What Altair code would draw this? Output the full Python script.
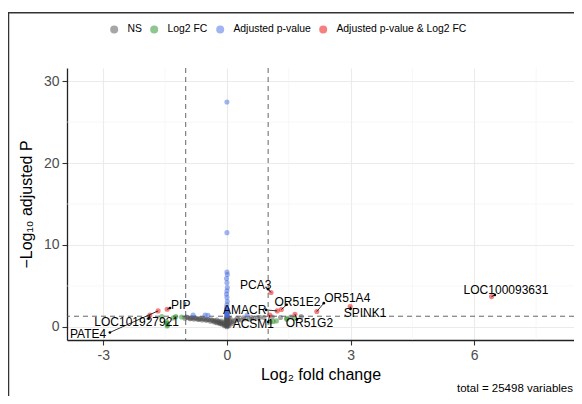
import altair as alt
import pandas as pd

FONT = "Liberation Sans"

# ---- data ----
ns_x = [-1.02, -0.95, -0.9, -0.85, -0.8, -0.75, -0.7, -0.65, -0.6, -0.55, -0.5, -0.45,
        -0.4, -0.35, -0.3, -0.28, -0.25, -0.2, -0.18, -0.15, -0.12, -0.1, -0.08, -0.05,
        -0.03, 0.0, 0.0, 0.01, -0.01, 0.0, 0.01, -0.01, 0.0, 0.01, -0.01, 0.0, 0.01,
        -0.01, 0.0, 0.03, 0.06, 0.1, 0.15, 0.2, 0.28, 0.35, 0.45, 0.55, 0.65, 0.75,
        0.9, 1.1, 1.3, 1.55, 1.8,
        -0.98, -0.88, -0.78, -0.68, -0.58, -0.48, -0.38, -0.32, -0.22, -0.16, -0.06,
        -0.04, -0.02, 0.02, 0.04, 0.05, 0.08, 0.12, 0.25, 0.4, 0.6, 0.8, -0.14, -0.24]
ns_y = [1.06, 1.15, 1.0, 1.1, 0.95, 1.05, 0.9, 1.0, 0.85, 0.95, 0.8, 0.9,
        0.7, 0.8, 0.6, 0.75, 0.5, 0.65, 0.45, 0.55, 0.35, 0.5, 0.3, 0.4,
        0.2, 0.02, 0.1, 0.18, 0.25, 0.35, 0.45, 0.55, 0.65, 0.75, 0.85, 0.95, 1.05,
        1.15, 1.25, 0.3, 0.5, 0.6, 0.7, 0.8, 0.9, 0.85, 1.0, 0.95, 1.05, 1.1,
        1.15, 1.2, 1.15, 1.2, 1.25,
        1.2, 1.08, 1.12, 0.98, 1.02, 0.92, 0.88, 0.72, 0.58, 0.4, 0.15,
        0.6, 0.9, 0.8, 1.1, 0.15, 1.0, 0.4, 1.05, 1.12, 1.15, 1.18, 0.7, 0.85]

fc_x = [-1.47, -1.45, -1.45, -1.44, -1.24, -1.3, -1.58, -1.1, 1.12, 1.2, 1.45, 1.65, 1.45, 1.05]
fc_y = [0.65, 0.45, 0.1, 0.25, 1.25, 1.1, 1.25, 1.2, 0.65, 0.73, 1.06, 1.06, 0.94, 0.6]

p_x = [0.0, 0.0, 0.0, 0.01, -0.01, 0.0, 0.01, 0.0, -0.01, 0.0, 0.01, 0.0, -0.01, 0.0,
       0.01, -0.01, 0.0, 0.01, -0.01, 0.0, 0.01, 0.0, -0.82, -0.53, -0.46, 0.49]
p_y = [27.45, 11.5, 6.7, 6.4, 5.9, 5.4, 4.8, 4.4, 4.0, 3.6, 3.1, 2.7, 2.35, 2.2,
       2.05, 1.95, 1.85, 1.75, 1.65, 1.55, 1.45, 1.38, 1.46, 1.46, 1.42, 1.45]

both_genes = ["LOC100093631", "PCA3", "AMACR", "OR51E2", "OR51G2", "ACSM1",
              "OR51A4", "SPINK1", "PIP", "LOC101927921", "PATE4"]
both_x = [6.42, 1.07, 1.22, 1.32, 1.65, 1.04, 2.18, 2.99, -1.45, -1.87, -1.67]
both_y = [3.7, 4.2, 1.95, 2.12, 1.55, 1.46, 1.87, 2.48, 2.15, 1.46, 1.95]

# label text positions and connector ends (data units)
label_x = [6.77, 0.70, 0.43, 1.71, 2.0, 0.64, 2.92, 3.35, -1.12, -2.19, -3.37]
label_y = [4.5, 5.1, 2.07, 3.09, 0.45, 0.37, 3.5, 1.67, 2.68, 0.55, -0.85]
conn_x = [6.5, 1.0, 0.95, 1.45, 1.7, 1.0, 2.35, 3.0, -1.38, -1.9, -2.84]
conn_y = [3.9, 4.6, 2.07, 2.7, 0.9, 0.6, 2.9, 2.2, 2.3, 1.0, -0.68]

categories = ["NS", "Log2 FC", "Adjusted p-value", "Adjusted p-value & Log2 FC"]
colors = ["#4D4D4D", "#228B22", "#4169E1", "#EE0000"]

minor_x = [-1.5, 1.5, 4.5, 7.5]
minor_y = [5, 15, 25]
fc_cut = [-1, 1]
p_cut = [1.30103]
caption = "total = 25498 variables"

# ---- tables ----
pts = pd.concat([
    pd.DataFrame({"x": ns_x, "y": ns_y, "cat": categories[0]}),
    pd.DataFrame({"x": fc_x, "y": fc_y, "cat": categories[1]}),
    pd.DataFrame({"x": p_x, "y": p_y, "cat": categories[2]}),
    pd.DataFrame({"x": both_x, "y": both_y, "cat": categories[3]}),
], ignore_index=True)
pts["order"] = range(len(pts))

lab = pd.DataFrame({"gene": both_genes, "x": both_x, "y": both_y,
                    "tx": label_x, "ty": label_y, "cx": conn_x, "cy": conn_y})

xs = alt.Scale(domain=[-3.88, 8.42], nice=False, zero=False)
ys = alt.Scale(domain=[-1.6, 31.6], nice=False, zero=False)
xaxis = alt.Axis(values=[-3, 0, 3, 6], title="Log₂ fold change",
                 labelExpr="replace(datum.label, '−', '-')", titlePadding=4)
yaxis = alt.Axis(values=[0, 10, 20, 30], title="−Log₁₀ adjusted P", titlePadding=9)

minor_gx = alt.Chart(pd.DataFrame({"x": minor_x})).mark_rule(
    color="#F2F2F2", strokeWidth=0.6).encode(x=alt.X("x:Q", scale=xs, axis=xaxis))
minor_gy = alt.Chart(pd.DataFrame({"y": minor_y})).mark_rule(
    color="#F2F2F2", strokeWidth=0.6).encode(y=alt.Y("y:Q", scale=ys, axis=yaxis))

vlines = alt.Chart(pd.DataFrame({"x": fc_cut})).mark_rule(
    color="#555555", strokeWidth=0.9, strokeDash=[5, 4]).encode(x=alt.X("x:Q", scale=xs, axis=xaxis))
hline = alt.Chart(pd.DataFrame({"y": p_cut})).mark_rule(
    color="#555555", strokeWidth=0.9, strokeDash=[5, 4]).encode(y=alt.Y("y:Q", scale=ys, axis=yaxis))

points = alt.Chart(pts).mark_circle(size=26, opacity=0.5).encode(
    x=alt.X("x:Q", scale=xs, axis=xaxis),
    y=alt.Y("y:Q", scale=ys, axis=yaxis),
    color=alt.Color("cat:N", scale=alt.Scale(domain=categories, range=colors),
                    legend=alt.Legend(orient="none", legendX=42, legendY=-44,
                                      direction="horizontal", title=None)),
    order="order:Q",
)

connectors = alt.Chart(lab).mark_rule(color="black", strokeWidth=0.8).encode(
    x=alt.X("x:Q", scale=xs, axis=xaxis), y=alt.Y("y:Q", scale=ys, axis=yaxis),
    x2="cx:Q", y2="cy:Q")
heads = alt.Chart(lab).mark_circle(color="black", size=7, opacity=1).encode(
    x=alt.X("cx:Q", scale=xs, axis=xaxis), y=alt.Y("cy:Q", scale=ys, axis=yaxis))
labels = alt.Chart(lab).mark_text(font=FONT, fontSize=12, color="black").encode(
    x=alt.X("tx:Q", scale=xs, axis=xaxis), y=alt.Y("ty:Q", scale=ys, axis=yaxis),
    text="gene:N")

cap = alt.Chart(pd.DataFrame({"t": [caption]})).mark_text(
    font=FONT, fontSize=11.5, color="black", align="right", baseline="middle").encode(
    text="t:N", x=alt.value(506), y=alt.value(321))

frame = alt.Chart(pd.DataFrame({"a": [0]})).mark_rect(
    fill="white", fillOpacity=0, stroke="#333333", strokeWidth=1.5).encode(
    x=alt.value(-58.5), x2=alt.value(560), y=alt.value(-55.3), y2=alt.value(420))

chart = alt.layer(
    minor_gx, minor_gy, vlines, hline, points, connectors, heads, labels, cap, frame
).properties(
    width=507, height=272,
    padding={"left": 59, "top": 60, "right": 0, "bottom": 56},
    autosize=alt.AutoSizeParams(type="none"),
).configure_view(stroke=None).configure_axis(
    labelFont=FONT, titleFont=FONT, labelFontSize=14, titleFontSize=16,
    labelColor="#4D4D4D", titleColor="black", titleFontWeight="normal",
    domainColor="#222222", domainWidth=1.3, tickColor="#333333", tickSize=5,
    tickWidth=1.1, labelPadding=3, gridColor="#EBEBEB", gridWidth=1.1,
).configure_legend(
    labelFont=FONT, labelFontSize=10.4, labelColor="black", symbolType="circle",
    symbolSize=64, symbolOpacity=0.5, symbolStrokeWidth=0, labelOffset=8,
    columnPadding=7, padding=0,
)

chart.save("out.html", embed_options={"renderer": "svg", "actions": False})
